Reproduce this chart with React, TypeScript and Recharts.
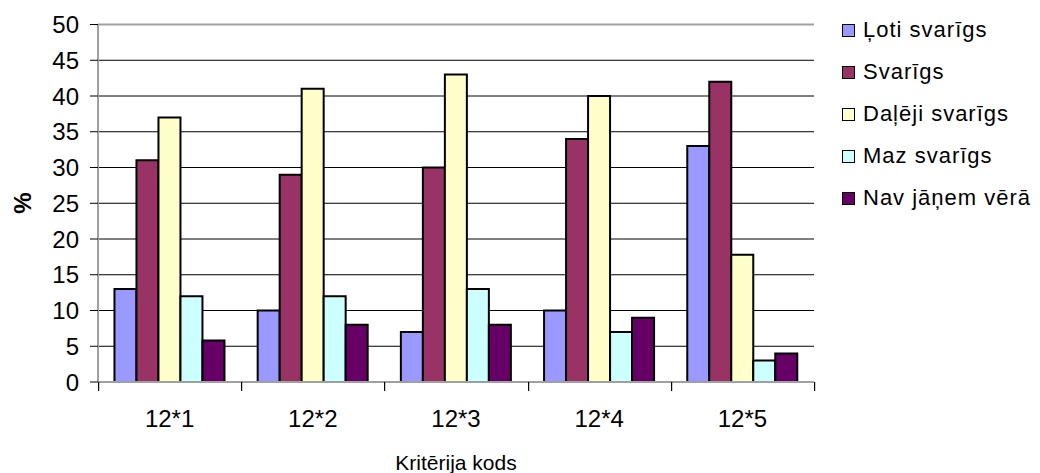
import React from 'react';
import {
  BarChart, Bar, XAxis, YAxis, CartesianGrid, Legend, ReferenceLine
} from 'recharts';

const categories = ['12*1', '12*2', '12*3', '12*4', '12*5'];
const lotiSvarigs = [13, 10, 7, 10, 33];
const svarigs = [31, 29, 30, 34, 42];
const dalejiSvarigs = [37, 41, 43, 40, 17.8];
const mazSvarigs = [12, 12, 13, 7, 3];
const navJanemVera = [5.8, 8, 8, 9, 4];
const yTicks = [0, 5, 10, 15, 20, 25, 30, 35, 40, 45, 50];

const series = [
  { key: 'loti', name: 'Ļoti svarīgs', color: '#9999FF', values: lotiSvarigs },
  { key: 'svarigs', name: 'Svarīgs', color: '#993366', values: svarigs },
  { key: 'daleji', name: 'Daļēji svarīgs', color: '#FFFFCC', values: dalejiSvarigs },
  { key: 'maz', name: 'Maz svarīgs', color: '#CCFFFF', values: mazSvarigs },
  { key: 'nav', name: 'Nav jāņem vērā', color: '#660066', values: navJanemVera },
];

const data = categories.map((name, i) => {
  const row: Record<string, string | number> = { name };
  series.forEach((s) => { row[s.key] = s.values[i]; });
  return row;
});

const FONT = '"Liberation Sans", Arial, sans-serif';
const MARGIN = { top: 24.5, right: 226, left: 48, bottom: 31 };
const Y_W = 50;
const PLOT_W = 1040 - MARGIN.left - MARGIN.right - Y_W;
const TICK_MARGIN = 28;

// category label plus Excel-style tick marks on the band edges
const CategoryTick = (props: any) => {
  const { x, y, payload, index } = props;
  const half = PLOT_W / categories.length / 2;
  const axisY = Number(y) - TICK_MARGIN;
  const cx = Number(x);
  const edges = index === categories.length - 1 ? [cx - half, cx + half] : [cx - half];
  return (
    <g>
      {edges.map((ex) => (
        <rect key={ex} x={Math.round(ex)} y={axisY} width={1.2} height={9} fill="#000" />
      ))}
      <text x={cx} y={y} dy="0.71em" textAnchor="middle" fontSize={24} fontFamily={FONT} fill="#000">
        {payload.value}
      </text>
    </g>
  );
};

const LegendBox = () => (
  <div style={{ fontFamily: FONT, fontSize: 22, letterSpacing: 1, color: '#000' }}>
    {series.map((s) => (
      <div key={s.key} style={{ display: 'flex', alignItems: 'center', height: 42 }}>
        <span style={{
          display: 'inline-block', width: 11, height: 11, background: s.color,
          border: '1.5px solid #000', marginRight: 8
        }} />
        <span>{s.name}</span>
      </div>
    ))}
  </div>
);

export default function App() {
  return (
    <div style={{ position: 'absolute', left: 0, top: 0, width: 1040, height: 473, background: '#fff' }}>
      <BarChart
        width={1040}
        height={473}
        data={data}
        margin={MARGIN}
        barCategoryGap="11.5%"
        barGap={0}
      >
        <CartesianGrid vertical={false} stroke="#000" strokeWidth={1} />
        <XAxis
          dataKey="name"
          height={60}
          tickLine={false}
          axisLine={{ stroke: '#a0a0a0', strokeWidth: 2 }}
          tickSize={0}
          tickMargin={TICK_MARGIN}
          tick={(p: any) => <CategoryTick {...p} />}
          label={{
            content: () => (
              <text x={456} y={470} textAnchor="middle" fontSize={21} fontFamily={FONT} fill="#000">
                Kritērija kods
              </text>
            )
          }}
        />
        <YAxis
          width={Y_W}
          domain={[0, 50]}
          ticks={yTicks}
          interval={0}
          tickSize={8}
          tickMargin={11}
          axisLine={{ stroke: '#a0a0a0', strokeWidth: 2 }}
          tickLine={{ stroke: '#000' }}
          tick={{ fill: '#000', fontSize: 24, fontFamily: FONT }}
          label={{
            content: () => (
              <text
                x={22}
                y={203}
                transform="rotate(-90 22 203)"
                textAnchor="middle"
                dominantBaseline="central"
                fontSize={24}
                fontWeight="bold"
                fontFamily={FONT}
                fill="#000"
              >
                %
              </text>
            )
          }}
        />
        <YAxis
          yAxisId="right"
          orientation="right"
          width={0}
          domain={[0, 50]}
          tick={false}
          tickLine={false}
          axisLine={{ stroke: '#a0a0a0', strokeWidth: 2 }}
        />
        <ReferenceLine y={50} stroke="#a0a0a0" strokeWidth={2} />
        {series.map((s) => (
          <Bar
            key={s.key}
            dataKey={s.key}
            name={s.name}
            fill={s.color}
            stroke="#000"
            strokeWidth={2}
            isAnimationActive={false}
          />
        ))}
        <Legend
          layout="vertical"
          align="center"
          verticalAlign="middle"
          content={() => <LegendBox />}
          wrapperStyle={{ position: 'absolute', left: 842, top: 9, width: 198 }}
        />
      </BarChart>
    </div>
  );
}
